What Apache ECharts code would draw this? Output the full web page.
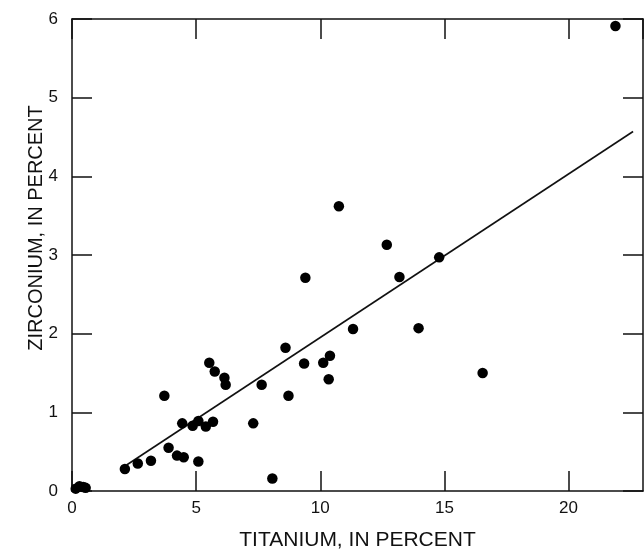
<!DOCTYPE html>
<html>
<head>
<meta charset="utf-8">
<script src="https://cdn.jsdelivr.net/npm/echarts@6/dist/echarts.min.js"></script>
<style>
html,body{margin:0;padding:0;background:#fff;}
#chart{width:644px;height:556px;}
</style>
</head>
<body>
<div id="chart"></div>
<script>
var titanium = [0.15,0.3,0.45,0.55,2.13,2.65,3.18,3.72,3.89,4.23,4.50,4.44,4.86,5.09,5.09,5.39,5.68,5.53,5.75,6.14,6.19,7.30,7.64,8.07,8.60,8.72,9.40,9.35,10.12,10.39,10.34,11.32,10.75,12.68,14.79,13.19,13.96,16.54,21.89];
var zirconium = [0.03,0.06,0.05,0.04,0.28,0.35,0.385,1.21,0.55,0.45,0.43,0.86,0.83,0.89,0.376,0.82,0.88,1.63,1.52,1.44,1.35,0.86,1.35,0.16,1.82,1.21,2.71,1.62,1.63,1.72,1.42,2.06,3.62,3.13,2.97,2.72,2.07,1.50,5.91];
var fitX = [2.2, 22.6];
var fitY = [0.33, 4.57];
var xTitle = 'TITANIUM, IN PERCENT';
var yTitle = 'ZIRCONIUM, IN PERCENT';

var pts = titanium.map(function(x,i){return [x, zirconium[i]];});
var fit = fitX.map(function(x,i){return [x, fitY[i]];});
var FONT = 'Liberation Sans';
var ink = '#111';
function axisCommon(extra){
  var a = {
    type:'value', splitLine:{show:false},
    axisLine:{show:true, onZero:false, lineStyle:{color:ink, width:1.5}},
    axisTick:{show:true, inside:true, length:20, lineStyle:{color:ink, width:1.5}},
    axisLabel:{show:false}
  };
  for (var k in extra) a[k] = extra[k];
  return a;
}
var chart = echarts.init(document.getElementById('chart'), null, {renderer:'canvas'});
chart.setOption({
  animation:false,
  backgroundColor:'#fff',
  grid:{left:72, right:1, top:19, bottom:58, containLabel:false},
  xAxis:[
    axisCommon({min:0, max:23, interval:5, position:'bottom',
      axisLabel:{show:true, margin:9, fontSize:17, color:ink, fontFamily:FONT,
        showMaxLabel:false},
      name:xTitle, nameLocation:'middle', nameGap:39,
      nameTextStyle:{fontSize:21, color:ink, fontFamily:FONT}}),
    axisCommon({min:0, max:23, interval:5, position:'top'})
  ],
  yAxis:[
    axisCommon({min:0, max:6, interval:1, position:'left',
      axisLabel:{show:true, margin:14, fontSize:17, color:ink, fontFamily:FONT}}),
    axisCommon({min:0, max:6, interval:1, position:'right'})
  ],
  graphic:[{
    type:'text', x:36, y:228, rotation:Math.PI/2,
    style:{text:yTitle, font:'20px "Liberation Sans"', fill:ink, align:'center', verticalAlign:'middle'}
  }],
  series:[
    {type:'line', data:fit, symbol:'none', lineStyle:{color:ink, width:1.6}, z:2},
    {type:'scatter', data:pts, symbol:'circle', symbolSize:10.5, itemStyle:{color:'#000', opacity:1}, z:3}
  ]
});
</script>
</body>
</html>
